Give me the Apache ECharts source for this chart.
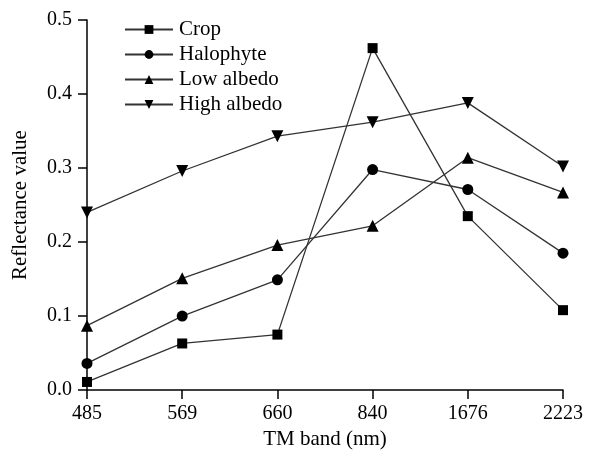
<!DOCTYPE html>
<html><head><meta charset="utf-8">
<script src="https://cdn.jsdelivr.net/npm/echarts@6/dist/echarts.min.js"></script>
<style>html,body{margin:0;padding:0;background:#fff}#c{width:589px;height:455px}</style>
</head><body><div id="c"></div>
<script>
const categories = ['485','569','660','840','1676','2223'];
const crop = [0.011, 0.063, 0.075, 0.462, 0.235, 0.108];
const halophyte = [0.036, 0.100, 0.149, 0.298, 0.271, 0.185];
const lowAlbedo = [0.087, 0.151, 0.196, 0.222, 0.314, 0.267];
const highAlbedo = [0.240, 0.296, 0.343, 0.362, 0.388, 0.302];
const yTicks = ['0.0','0.1','0.2','0.3','0.4','0.5'];

const font = '"Liberation Serif", "DejaVu Serif", serif';
const chart = echarts.init(document.getElementById('c'), null, {renderer:'canvas'});
function mk(name, data, symbol, size, rot) {
  return {
    name, type:'line', data, symbol, symbolSize:size, symbolRotate:rot||0,
    lineStyle:{color:'#333', width:1.3},
    itemStyle:{color:'#000'},
    animation:false
  };
}
chart.setOption({
  backgroundColor:'#fff',
  animation:false,
  grid:{left:87, right:26, top:20, bottom:62},
  legend:{
    orient:'vertical', left:119, top:14, itemWidth:48, itemHeight:11, itemGap:4,
    textStyle:{fontFamily:font, fontSize:21, color:'#000', padding:[0,0,0,1]},
    data:['Crop','Halophyte','Low albedo','High albedo']
  },
  xAxis:{
    type:'category', data:categories, boundaryGap:false,
    name:'TM band (nm)', nameLocation:'middle', nameGap:38,
    nameTextStyle:{fontFamily:font, fontSize:21, color:'#000'},
    axisLine:{lineStyle:{color:'#000', width:1.5}},
    axisTick:{alignWithLabel:true, length:9, lineStyle:{color:'#000', width:1.5}},
    axisLabel:{fontFamily:font, fontSize:20, color:'#000', margin:14},
    splitLine:{show:false}
  },
  yAxis:{
    type:'value', min:0, max:0.5, interval:0.1,
    name:'Reflectance value', nameLocation:'middle', nameGap:56,
    nameTextStyle:{fontFamily:font, fontSize:21, color:'#000'},
    axisLine:{show:true, lineStyle:{color:'#000', width:1.5}},
    axisTick:{show:true, length:9, lineStyle:{color:'#000', width:1.5}},
    axisLabel:{fontFamily:font, fontSize:20, color:'#000', margin:15,
      formatter:(v)=>yTicks[Math.round(v*10)]},
    splitLine:{show:false}
  },
  series:[
    mk('Crop', crop, 'rect', 10),
    mk('Halophyte', halophyte, 'circle', 11),
    mk('Low albedo', lowAlbedo, 'triangle', 12),
    mk('High albedo', highAlbedo, 'triangle', 12, 180)
  ]
});
</script></body></html>
